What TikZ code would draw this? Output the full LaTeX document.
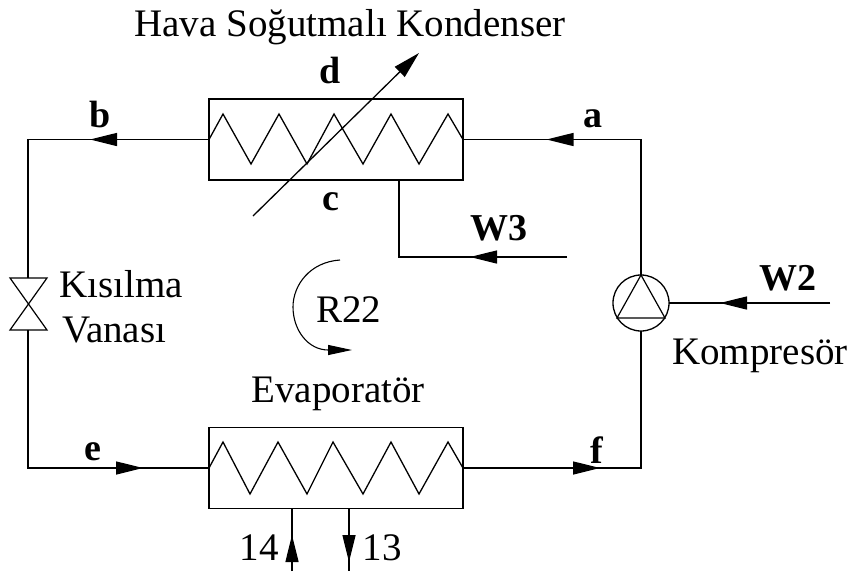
\documentclass[tikz,border=0pt]{standalone}
\usepackage{fontspec}
\setmainfont{Liberation Serif}
\usetikzlibrary{arrows.meta,decorations.markings}
\tikzset{
  pipe/.style={line width=1.3pt,line join=miter},
  flowat/.style={postaction={decorate,decoration={markings,mark=at position #1 with {\arrow{Triangle[length=27pt,width=13pt]}}}}},
  unit/.style={draw,line width=1.3pt,rectangle,minimum width=254pt,minimum height=81pt,inner sep=0pt,outer sep=0pt},
  plain/.style={anchor=base,inner sep=0pt,font=\fontsize{39}{41}\selectfont},
  heavy/.style={anchor=base,inner sep=0pt,font=\fontsize{38}{40}\selectfont\bfseries}
}
\begin{document}
\begin{tikzpicture}[x=1pt,y=-1pt]
\useasboundingbox (0,0) rectangle (851,573);
\fill[white] (0,0) rectangle (851,573);
% units
\node[unit] (cond) at (336,139.5) {};
\node[unit] (evap) at (336,468) {};
\node[draw,circle,line width=1.3pt,minimum size=56pt,inner sep=0pt,outer sep=0pt] (comp) at (641,303) {};
% coordinates
\coordinate (vt) at (28,278);
\coordinate (vb) at (28,330);
\coordinate (w3s) at (399,180);
\coordinate (w3c) at (399,257);
\coordinate (w3e) at (567,257);
\coordinate (w2e) at (830,303);
\coordinate (ai) at (253,216);
\coordinate (ao) at (419,53);
\coordinate (p14t) at (292,509);
\coordinate (p14b) at (292,571);
\coordinate (p13t) at (349,509);
\coordinate (p13b) at (349,571);
% zigzags
\draw[pipe] (cond.west) -- (223,114) -- (251,164) -- (279,114) -- (307,164) -- (334,114) -- (363,164) -- (391,114) -- (419,164) -- (448,114) -- (cond.east);
\draw[pipe] (evap.west) -- (223,442) -- (250,494) -- (278,442) -- (307,494) -- (333,442) -- (363,494) -- (391,442) -- (419,494) -- (448,442) -- (evap.east);
% compressor triangle
\draw[line width=1.2pt] (comp.north) -- (617,318) -- (665,318) -- cycle;
% valve
\draw[line width=1.2pt] (10,278) -- (47,278) -- (10,330) -- (47,330) -- cycle;
% pipes
\draw[pipe,flowat=230pt] (comp.north) |- (cond.east);
\draw[pipe,flowat=119pt] (cond.west) -| (vt);
\draw[pipe,flowat=253pt] (vb) |- (evap.west);
\draw[pipe,flowat=137pt] (evap.east) -| (comp.south);
\draw[pipe,flowat=97pt] (w3e) -- (w3c) -- (w3s);
\draw[pipe,flowat=110pt] (w2e) -- (comp.east);
\draw[pipe,flowat=36pt] (p14b) -- (p14t);
\draw[pipe,flowat=53pt] (p13t) -- (p13b);
% crossing arrow
\draw[pipe,-{Triangle[length=27pt,width=14pt]}] (ai) -- (ao);
% R22 circulation
\draw[line width=1.1pt,-{Triangle[length=24pt,width=10pt]}] (340,260) .. controls (310,262) and (293,285) .. (293,307) .. controls (293,330) and (308,350) .. (352,350);
% labels
\node[plain] (title) at (350,36) {Hava Soğutmalı Kondenser};
\node[plain] (evlabel) at (338,402) {Evaporatör};
\node[plain,anchor=base west] (kis) at (59,297) {Kısılma};
\node[plain,anchor=base west] (van) at (62,342) {Vanası};
\node[plain,anchor=base west] (r22) at (316,322) {R22};
\node[plain] (kom) at (760,364) {Kompresör};
\node[plain] (n14) at (259,560) {14};
\node[plain] (n13) at (382,560) {13};
\node[heavy] (ld) at (330,83) {d};
\node[heavy] (lc) at (331,210) {c};
\node[heavy] (la) at (593,127) {a};
\node[heavy] (lb) at (100,127) {b};
\node[heavy] (le) at (93,460) {e};
\node[heavy] (lf) at (597,463) {f};
\node[heavy] (lw3) at (499,240) {W3};
\node[heavy] (lw2) at (788,290) {W2};
\end{tikzpicture}
\end{document}
